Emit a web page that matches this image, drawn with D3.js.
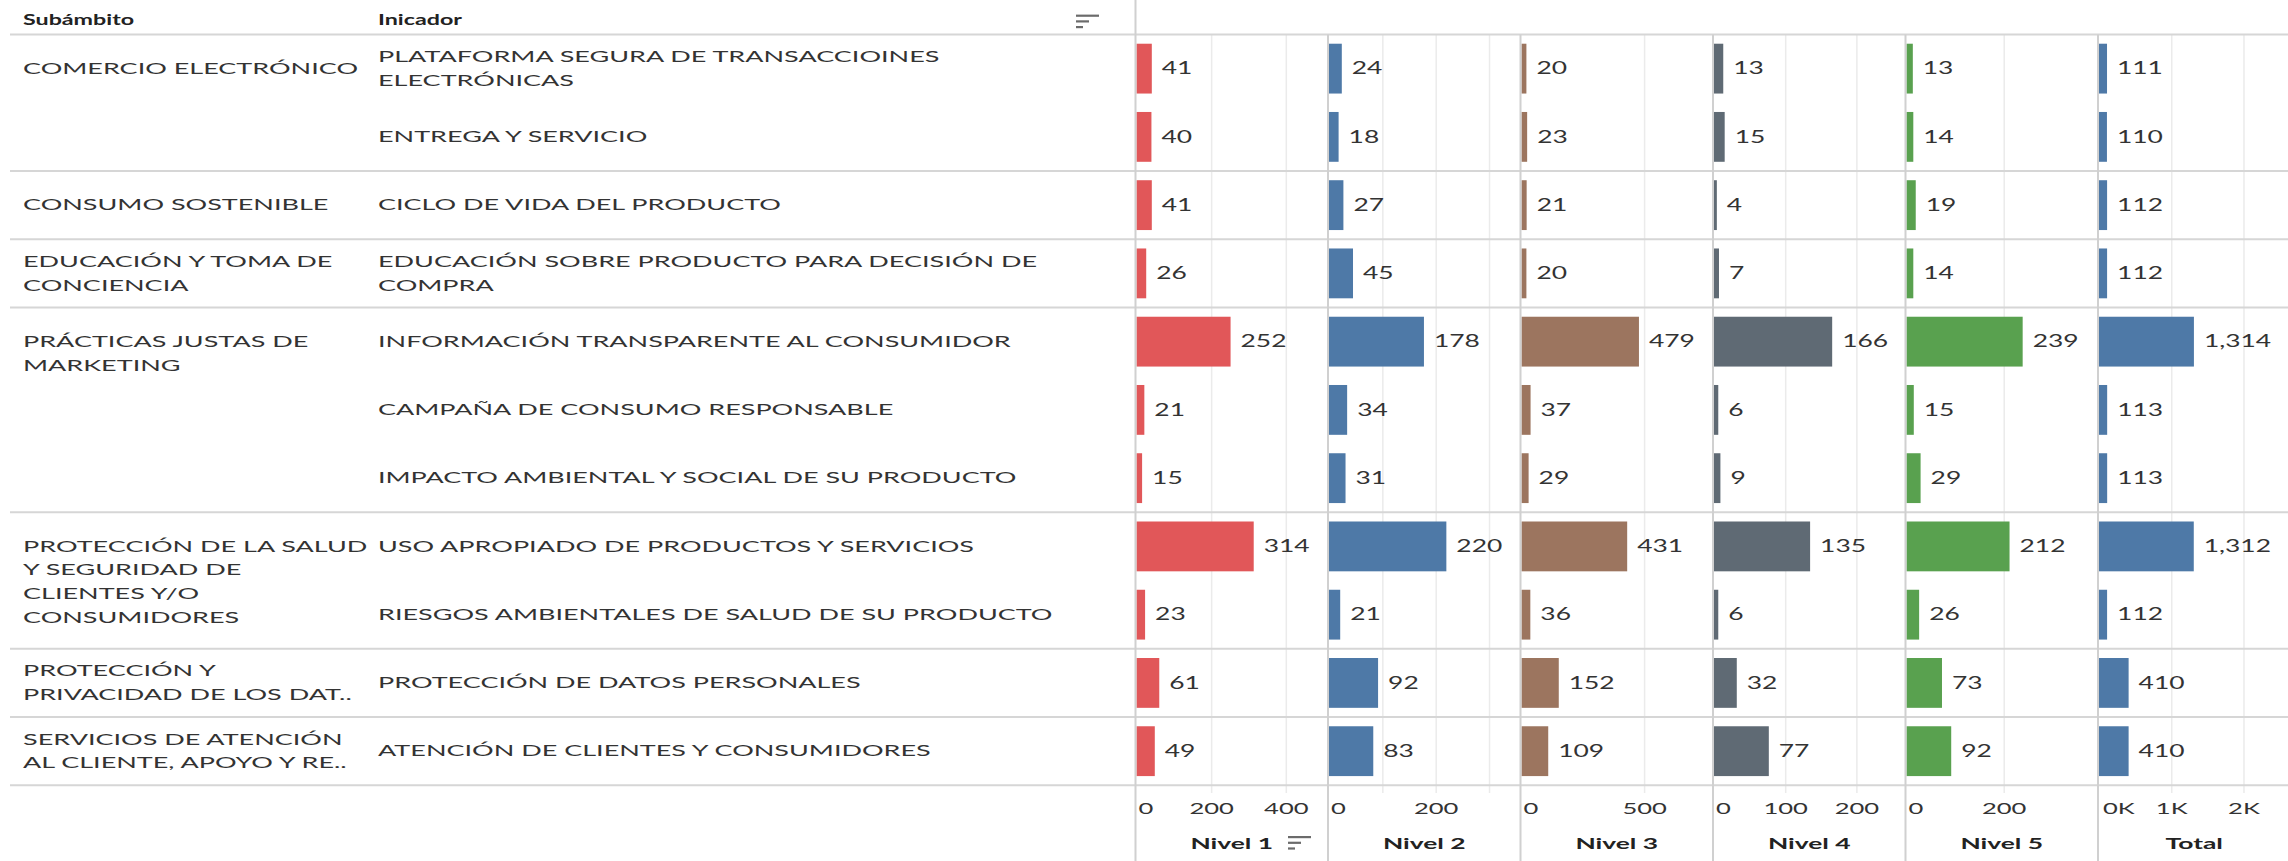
<!DOCTYPE html>
<html>
<head>
<meta charset="utf-8">
<script src="https://cdn.jsdelivr.net/npm/d3@7"></script>
<style>
body { margin: 0; background: #fff; }
text { font-family: Lato, "Open Sans", sans-serif; fill: #333; }
.hdr { font-weight: 700; fill: #222; }
.grid line { stroke: #ebebeb; stroke-width: 1.5; }
.grid path, .lab path, .lab line { display: none; }
</style>
</head>
<body>
<div id="chart"></div>
<script>
// subámbitos (wrapped the way the table shows them)
var subambitos = [
  ["COMERCIO ELECTRÓNICO"],
  ["CONSUMO SOSTENIBLE"],
  ["EDUCACIÓN Y TOMA DE", "CONCIENCIA"],
  ["PRÁCTICAS JUSTAS DE", "MARKETING"],
  ["PROTECCIÓN DE LA SALUD", "Y SEGURIDAD DE", "CLIENTES Y/O", "CONSUMIDORES"],
  ["PROTECCIÓN Y", "PRIVACIDAD DE LOS DAT.."],
  ["SERVICIOS DE ATENCIÓN", "AL CLIENTE, APOYO Y RE.."]
]
var indicadores = [
  ["PLATAFORMA SEGURA DE TRANSACCIOINES", "ELECTRÓNICAS"],
  ["ENTREGA Y SERVICIO"],
  ["CICLO DE VIDA DEL PRODUCTO"],
  ["EDUCACIÓN SOBRE PRODUCTO PARA DECISIÓN DE", "COMPRA"],
  ["INFORMACIÓN TRANSPARENTE AL CONSUMIDOR"],
  ["CAMPAÑA DE CONSUMO RESPONSABLE"],
  ["IMPACTO AMBIENTAL Y SOCIAL DE SU PRODUCTO"],
  ["USO APROPIADO DE PRODUCTOS Y SERVICIOS"],
  ["RIESGOS AMBIENTALES DE SALUD DE SU PRODUCTO"],
  ["PROTECCIÓN DE DATOS PERSONALES"],
  ["ATENCIÓN DE CLIENTES Y CONSUMIDORES"]
]
var indGroup = [0, 0, 1, 2, 3, 3, 3, 4, 4, 5, 6]

var medidas = ["Nivel 1", "Nivel 2", "Nivel 3", "Nivel 4", "Nivel 5", "Total"]
var nivel1 = [41, 40, 41, 26, 252, 21, 15, 314, 23, 61, 49]
var nivel2 = [24, 18, 27, 45, 178, 34, 31, 220, 21, 92, 83]
var nivel3 = [20, 23, 21, 20, 479, 37, 29, 431, 36, 152, 109]
var nivel4 = [13, 15, 4, 7, 166, 6, 9, 135, 6, 32, 77]
var nivel5 = [13, 14, 19, 14, 239, 15, 29, 212, 26, 73, 92]
var total  = [111, 110, 112, 112, 1314, 113, 113, 1312, 112, 410, 410]
var series = [nivel1, nivel2, nivel3, nivel4, nivel5, total]

// axis extents and ticks
var axisMax = [513, 359, 781, 269, 394, 2651]
var gridTicks = [[200, 400], [100, 200, 300], [500], [100, 200], [200], [1000, 2000]]
var labelTicks = [[0, 200, 400], [0, 200], [0, 500], [0, 100, 200], [0, 200], [0, 1000, 2000]]

var colors = ["#e15759", "#4e79a7", "#9c755f", "#5f6a74", "#59a14f", "#4e79a7"]

var W = 2288, H = 861
var SX = 1.65, ROWSX = 1.8   // the table's font is drawn wide
var rowsTop = 34.5, rowsBottom = 785.3
var panelX0 = 1135.5, panelW = 192.5
var lineH = 23.8

var svg = d3.select('#chart').append('svg').attr('width', W).attr('height', H)

function wide(sel, x, y, k){
  return sel.attr('transform', 'translate(' + x + ',' + y + ') scale(' + (k || SX) + ',1)')
}

var y = d3.scaleBand().domain(d3.range(indicadores.length))
  .range([rowsTop, rowsBottom]).paddingInner(0.27).paddingOuter(0.135)
var rowTop = function(i){ return y(i) - y.step() * 0.135 }
var rowMid = function(i){ return y(i) + y.bandwidth() / 2 }

var panel = d3.scaleBand().domain(medidas).range([panelX0, panelX0 + panelW * 6])

// header
wide(svg.append('text').attr('class', 'hdr').style('font-size', '15px').attr('dy', '0.35em').text('Subámbito'), 23, 20, 1.55)
wide(svg.append('text').attr('class', 'hdr').style('font-size', '15px').attr('dy', '0.35em').text('Inicador'), 378, 20, 1.55)

function sortIcon(x, y0){
  [23, 13, 7].forEach(function(w, k){
    svg.append('rect').attr('x', x).attr('y', y0 + k * 5.7).attr('width', w).attr('height', 2.2).attr('fill', '#6b6b6b')
  })
}
sortIcon(1076, 14.6)

// gridlines + axis labels per panel
medidas.forEach(function(m, p){
  var x0 = panel(m)
  var x = d3.scaleLinear().domain([0, axisMax[p]]).range([x0 + 1, x0 + panelW])
  var g = svg.append('g').attr('class', 'grid').attr('transform', 'translate(0,793)')
  g.call(d3.axisBottom(x).tickValues(gridTicks[p]).tickFormat('').tickSizeInner(-(793 - rowsTop)).tickSizeOuter(0))

  var fmt = p == 5 ? function(d){ return d / 1000 + 'K' } : d3.format('d')
  var lab = svg.append('g').attr('class', 'lab').attr('transform', 'translate(0,809)')
  lab.call(d3.axisBottom(x).tickValues(labelTicks[p]).tickFormat(fmt).tickSize(0).tickPadding(0))
  lab.selectAll('text').attr('y', 0).attr('dy', '0.35em').style('font-size', '15.5px')
    .attr('transform', 'scale(' + SX + ',1)')
  lab.selectAll('.tick').filter(function(d){ return d == 0 })
    .attr('transform', 'translate(' + (x0 + (p == 5 ? 5 : 3)) + ',0)')
    .select('text').attr('text-anchor', 'start')

  var t = svg.append('text').attr('class', 'hdr').style('font-size', '16px')
    .attr('text-anchor', 'middle').attr('dy', '0.35em').text(m)
  wide(t, x0 + panelW / 2, 843)
  if (p == 0) sortIcon(1288, 836)

  // bars and labels
  var bars = svg.append('g')
  bars.selectAll('rect').data(series[p]).join('rect')
    .attr('x', x(0)).attr('y', function(d, i){ return y(i) })
    .attr('width', function(d){ return x(d) - x(0) }).attr('height', y.bandwidth())
    .attr('fill', colors[p])
  bars.selectAll('text').data(series[p]).join('text')
    .style('font-size', '16.5px').attr('dy', '0.35em')
    .text(d3.format(','))
    .each(function(d, i){ wide(d3.select(this), x(d) + 10, rowMid(i), 1.6) })
})

// horizontal rules: header + group separators
var seps = [rowsTop]
indGroup.forEach(function(g, i){
  if (i == indGroup.length - 1 || indGroup[i + 1] != g) seps.push(rowTop(i) + y.step())
})
svg.selectAll('line.sep').data(seps).join('line').attr('class', 'sep')
  .attr('x1', 10).attr('x2', W).attr('y1', function(d){ return d }).attr('y2', function(d){ return d })
  .attr('stroke', '#d6d6d6').attr('stroke-width', 2)

// panel borders
medidas.forEach(function(m, p){
  svg.append('line').attr('x1', panel(m)).attr('x2', panel(m))
    .attr('y1', p == 0 ? 0 : rowsTop).attr('y2', H)
    .attr('stroke', '#d0d0d0').attr('stroke-width', 2)
})

// indicator labels
indicadores.forEach(function(lines, i){
  lines.forEach(function(s, k){
    var t = svg.append('text').style('font-size', '15px').attr('dy', '0.35em').text(s)
    wide(t, 378, rowMid(i) + (k - (lines.length - 1) / 2) * lineH, ROWSX)
  })
})

// subámbito labels
subambitos.forEach(function(lines, g){
  var rows = indGroup.map(function(d, i){ return d == g ? i : -1 }).filter(function(i){ return i >= 0 })
  var first = rows.length == 1 ? rowMid(rows[0]) - (lines.length - 1) / 2 * lineH : rowMid(rows[0])
  lines.forEach(function(s, k){
    var t = svg.append('text').style('font-size', '15px').attr('dy', '0.35em').text(s)
    wide(t, 23, first + k * lineH, ROWSX)
  })
})
</script>
</body>
</html>
